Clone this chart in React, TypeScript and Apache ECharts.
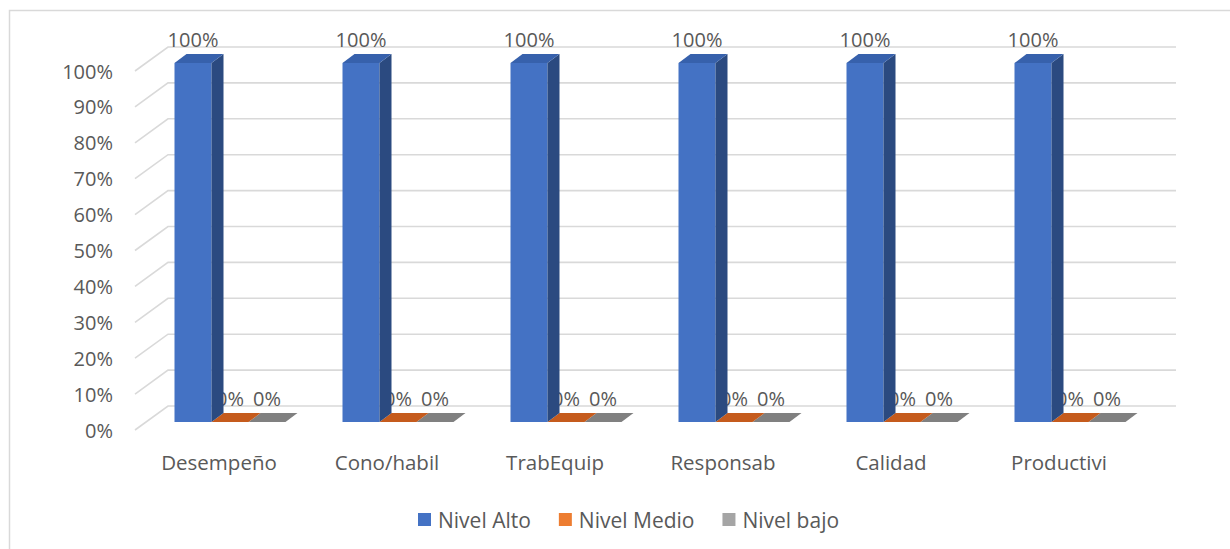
import React, { useEffect, useRef } from "react";
import * as echarts from "echarts";

// Categories and series values (percent)
const categories = ["Desempeño", "Cono/habil", "TrabEquip", "Responsab", "Calidad", "Productivi"];
const nivelAlto = [100, 100, 100, 100, 100, 100];
const nivelMedio = [0, 0, 0, 0, 0, 0];
const nivelBajo = [0, 0, 0, 0, 0, 0];
const yTicks = [0, 10, 20, 30, 40, 50, 60, 70, 80, 90, 100];

const seriesDefs = [
  { name: "Nivel Alto", data: nivelAlto, front: "#4472C4", top: "#3761AC", side: "#2B4A80" },
  { name: "Nivel Medio", data: nivelMedio, front: "#ED7D31", top: "#C55B1D", side: "#A34A16" },
  { name: "Nivel bajo", data: nivelBajo, front: "#A5A5A5", top: "#808080", side: "#6B6B6B" },
];

// 3D look: depth of the walls and of the columns
const WALL_DX = 33;
const WALL_DY = -24;
const BAR_SHIFT_X = 11;
const BAR_SHIFT_Y = -8;
const BAR_DX = 12;
const BAR_DY = -9;
const GROUP_RATIO = 111 / 168;

const FONT = '"Open Sans", "Noto Sans", sans-serif';
const TEXT_COLOR = "#595959";
const GRID_COLOR = "#D9D9D9";

export default function App() {
  const ref = useRef<HTMLDivElement>(null);

  useEffect(() => {
    if (!ref.current) return;
    const chart = echarts.init(ref.current, undefined, { renderer: "svg" });

    const wallSeries = {
      type: "custom",
      name: "wall",
      silent: true,
      z: 1,
      data: yTicks.map((t) => [0, t]),
      encode: { x: 0, y: 1 },
      renderItem: (params: any, api: any) => {
        const cs = params.coordSys;
        const y = api.coord([0, api.value(1)])[1];
        return {
          type: "polyline",
          shape: {
            points: [
              [cs.x, y],
              [cs.x + WALL_DX, y + WALL_DY],
              [cs.x + cs.width + WALL_DX, y + WALL_DY],
            ],
          },
          style: { stroke: GRID_COLOR, lineWidth: 1.6, fill: "none" },
        };
      },
    };

    const barSeries = seriesDefs.map((s, k) => ({
      type: "custom",
      name: s.name,
      z: 10 - k,
      itemStyle: { color: s.front },
      data: s.data.map((v, i) => [i, v]),
      encode: { x: 0, y: 1 },
      renderItem: (params: any, api: any) => {
        const idx = api.value(0);
        const val = api.value(1);
        const [cx, yv] = api.coord([idx, val]);
        const y0 = api.coord([idx, 0])[1];
        const band = api.size([1, 0])[0];
        const bw = (band * GROUP_RATIO) / 3;
        const x0 = cx - (band * GROUP_RATIO) / 2 + k * bw + BAR_SHIFT_X;
        const x1 = x0 + bw;
        const yb = y0 + BAR_SHIFT_Y;
        const yt = yv + BAR_SHIFT_Y;
        const children: any[] = [
          {
            type: "text",
            style: {
              text: `${val}%`,
              x: x0 + bw / 2,
              y: yt - 24,
              align: "center",
              verticalAlign: "middle",
              fontSize: 20,
              fontFamily: FONT,
              fill: TEXT_COLOR,
            },
          },
        ];
        if (yb - yt > 0) {
          children.push({
            type: "polygon",
            shape: { points: [[x0, yt], [x1, yt], [x1, yb], [x0, yb]] },
            style: { fill: s.front },
          });
          children.push({
            type: "polygon",
            shape: {
              points: [
                [x1, yt],
                [x1 + BAR_DX, yt + BAR_DY],
                [x1 + BAR_DX, yb + BAR_DY],
                [x1, yb],
              ],
            },
            style: { fill: s.side },
          });
        }
        children.push({
          type: "polygon",
          shape: {
            points: [
              [x0, yt],
              [x1, yt],
              [x1 + BAR_DX, yt + BAR_DY],
              [x0 + BAR_DX, yt + BAR_DY],
            ],
          },
          style: { fill: s.top },
        });
        return { type: "group", children };
      },
    }));

    chart.setOption({
      animation: false,
      backgroundColor: "#FFFFFF",
      textStyle: { fontFamily: FONT },
      grid: { left: 135, right: 87, top: 71, bottom: 119, containLabel: false },
      xAxis: {
        type: "category",
        data: categories,
        axisLine: { show: false },
        axisTick: { show: false },
        axisLabel: { fontSize: 20.5, color: TEXT_COLOR, margin: 21, fontFamily: FONT },
        splitLine: { show: false },
      },
      yAxis: {
        type: "value",
        min: 0,
        max: 100,
        interval: 10,
        axisLine: { show: false },
        axisTick: { show: false },
        splitLine: { show: false },
        axisLabel: { formatter: "{value}%", fontSize: 20, color: TEXT_COLOR, margin: 22, fontFamily: FONT },
      },
      legend: {
        data: seriesDefs.map((s) => s.name),
        top: 504,
        left: 413,
        icon: "rect",
        itemWidth: 13,
        itemHeight: 13,
        itemGap: 28,
        textStyle: { fontSize: 21, color: TEXT_COLOR, fontFamily: FONT, padding: [0, 0, 0, 2] },
      },
      graphic: [
        {
          type: "rect",
          silent: true,
          z: -10,
          shape: { x: 9.5, y: 10.5, width: 1400, height: 800 },
          style: { fill: "none", stroke: GRID_COLOR, lineWidth: 1.5 },
        },
      ],
      series: [wallSeries, ...barSeries],
    });

    return () => chart.dispose();
  }, []);

  return (
    <div
      ref={ref}
      style={{ position: "fixed", left: 0, top: 0, width: 1230, height: 549, background: "#fff" }}
    />
  );
}
